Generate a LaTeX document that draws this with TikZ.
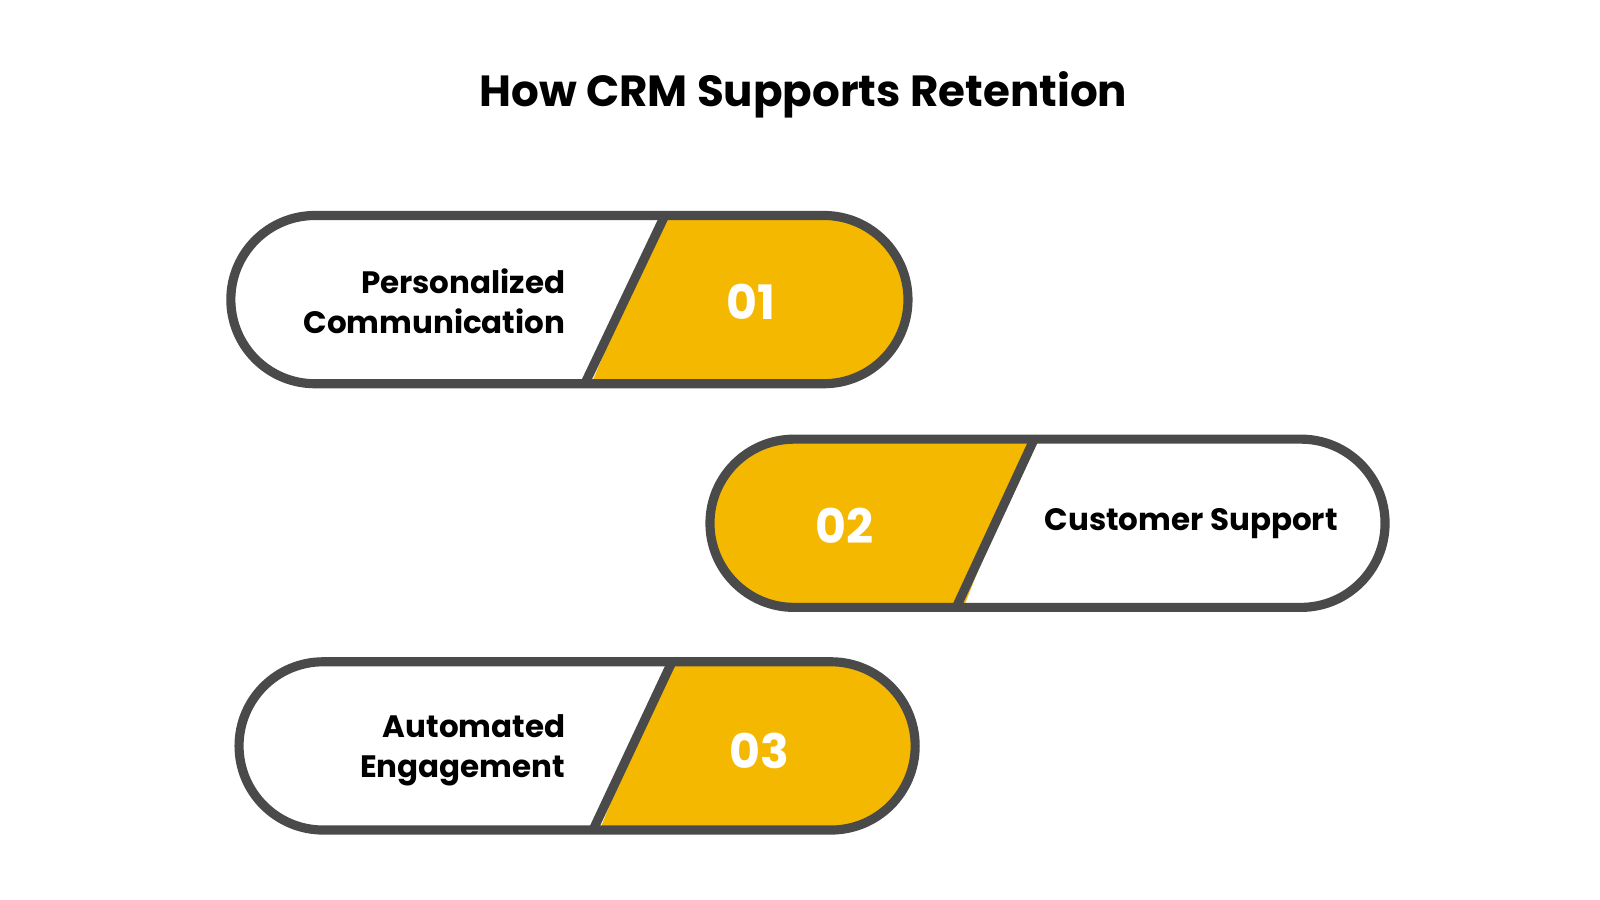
\documentclass[tikz,border=0pt]{standalone}
\usepackage{fontspec}
\setmainfont{Poppins}
\begin{document}
\begin{tikzpicture}[x=0.01026cm,y=-0.01026cm,
  edge/.style={draw=edgec,line width=2.6pt},
  lbl/.style={font=\fontsize{8.8}{11.4}\selectfont\bfseries,text=black,align=right},
  num/.style={font=\fontsize{13.5}{15}\selectfont\bfseries,text=white}]
\definecolor{edgec}{HTML}{4A4A4A}
\definecolor{yel}{HTML}{F5B800}
\useasboundingbox (0,0) rectangle (1559.5,877.2);
\fill[white] (0,0) rectangle (1559.5,877.2);
\node[font=\fontsize{12.4}{15}\selectfont\bfseries] (title) at (783,92) {How CRM Supports Retention};
\def\pill#1#2#3#4{ (#1+#4,#2) -- (#3-#4,#2) arc[start angle=-90,end angle=90,radius=#4] -- (#1+#4,#2+2*#4) arc[start angle=90,end angle=270,radius=#4] -- cycle}
% pill 1
\begin{scope}
\clip \pill{225}{210}{885}{82};
\fill[yel] (648,200) -- (900,200) -- (900,390) -- (570,390) -- cycle;
\end{scope}
\draw[edge] \pill{225}{210}{885}{82};
\draw[edge] (648,210) -- (570,374);
\node[num] (n1) at (732,294) {01};
\node[lbl,anchor=east] (t1) at (563,294) {Personalized\\Communication};
% pill 2
\begin{scope}
\clip \pill{692}{428}{1350}{82};
\fill[yel] (1008,418) -- (680,418) -- (680,610) -- (932,610) -- cycle;
\end{scope}
\draw[edge] \pill{692}{428}{1350}{82};
\draw[edge] (1008,428) -- (932,592);
\node[num] (n2) at (823,512) {02};
\node[lbl,anchor=center] (t2) at (1161,510) {Customer Support};
% pill 3
\begin{scope}
\clip \pill{233}{645}{892}{82};
\fill[yel] (655,635) -- (905,635) -- (905,825) -- (578,825) -- cycle;
\end{scope}
\draw[edge] \pill{233}{645}{892}{82};
\draw[edge] (655,645) -- (578,809);
\node[num] (n3) at (740,732) {03};
\node[lbl,anchor=east] (t3) at (563,731) {Automated\\Engagement};
\end{tikzpicture}
\end{document}
